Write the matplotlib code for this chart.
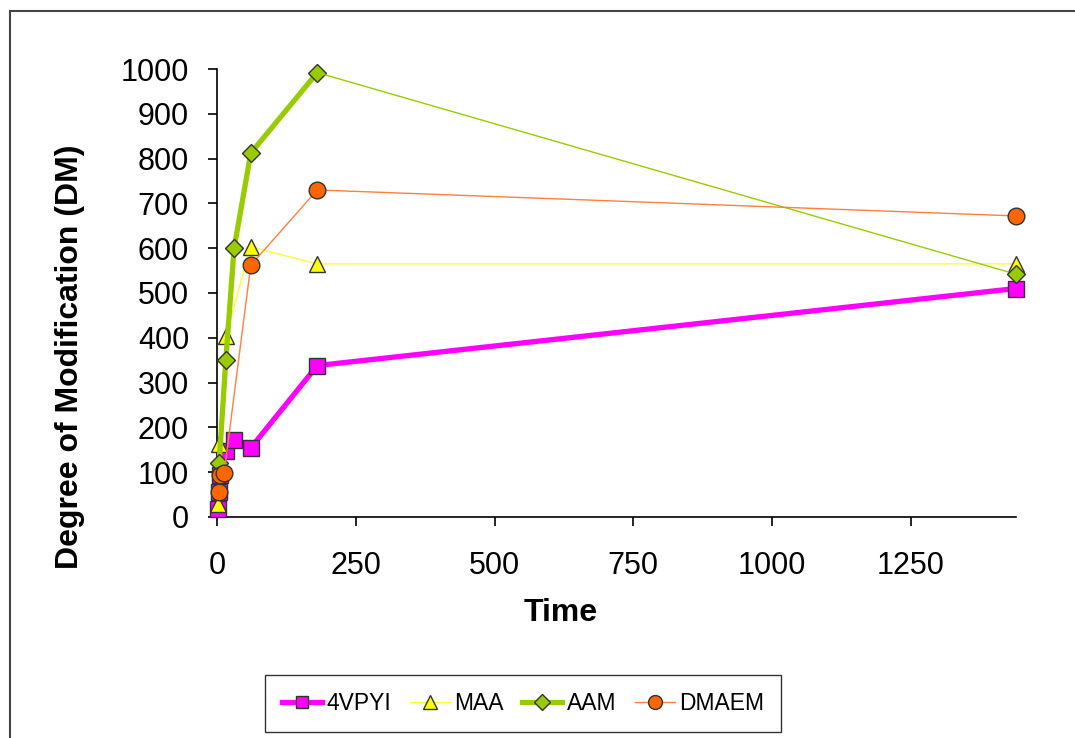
import matplotlib
matplotlib.use('Agg')
import matplotlib.pyplot as plt
from matplotlib.lines import Line2D
from matplotlib.patches import Rectangle

plt.rcParams['font.family'] = ['Liberation Sans', 'DejaVu Sans']

# reaction time vs degree of modification, one series per monomer
t_4vpyi  = [1, 3, 5, 15, 30, 60, 180, 1440]
dm_4vpyi = [18, 56, 94, 148, 172, 154, 338, 510]

t_maa    = [1, 3, 15, 60, 180, 1440]
dm_maa   = [30, 163, 405, 603, 565, 565]

t_aam    = [3, 15, 30, 60, 180, 1440]
dm_aam   = [120, 350, 600, 812, 992, 542]

t_dmaem  = [3, 5, 12, 60, 180, 1440]
dm_dmaem = [56, 94, 98, 562, 730, 672]

labels = ['4VPYI', 'MAA', 'AAM', 'DMAEM']
x_ticks = [0, 250, 500, 750, 1000, 1250]
y_ticks = list(range(0, 1001, 100))

edge = '#333333'

fig = plt.figure(figsize=(10.75, 7.38), dpi=100)
ax = fig.add_axes([0.2023, 0.2995, 0.7427, 0.607])

# outer chart frame
fig.patches.append(Rectangle((10 / 1075, -0.05), 1.2, 0.05 + 1 - 11 / 738, transform=fig.transFigure,
                             fill=False, edgecolor='#444444', linewidth=1.5))

ax.plot(t_4vpyi, dm_4vpyi, color='#FF00FF', lw=3.8, marker='s', ms=11.5,
        mfc='#FF00FF', mec=edge, mew=1, zorder=3, clip_on=False)
ax.plot(t_maa, dm_maa, color='#FFFF33', lw=1.0, marker='^', ms=12,
        mfc='#FFFF00', mec=edge, mew=1, zorder=4, clip_on=False)
# AAM: heavy line up to 180 min, thin line for the last interval
ax.plot(t_aam[:-1], dm_aam[:-1], color='#99CC00', lw=3.8, marker='D', ms=9.5,
        mfc='#99CC00', mec=edge, mew=1, zorder=5, clip_on=False)
ax.plot(t_aam[-2:], dm_aam[-2:], color='#99CC00', lw=1.0, marker='D', ms=9.5, markevery=[1],
        mfc='#99CC00', mec=edge, mew=1, zorder=5, clip_on=False)
ax.plot(t_dmaem, dm_dmaem, color='#FF8040', lw=1.0, marker='o', ms=12,
        mfc='#FF6600', mec=edge, mew=1, zorder=6, clip_on=False)

ax.set_xlim(0, 1440)
ax.set_ylim(0, 1000)
ax.set_xticks(x_ticks)
ax.set_yticks(y_ticks)
ax.spines['top'].set_visible(False)
ax.spines['right'].set_visible(False)
for s in ('left', 'bottom'):
    ax.spines[s].set_linewidth(1.2)
ax.tick_params(axis='y', direction='out', length=6.5, width=1.2, pad=14, labelsize=22)
ax.tick_params(axis='x', direction='out', length=6.5, width=1.2, pad=18, labelsize=22)

ax.set_xlabel('Time', fontsize=23, fontweight='bold', va='center')
ax.set_ylabel('Degree of Modification (DM)', fontsize=23, fontweight='bold', va='center')
ax.xaxis.set_label_coords((561 - 217.5) / 798.5, (517 - 613) / 448)
ax.yaxis.set_label_coords((70 - 217.5) / 798.5, (517 - 357) / 448)

handles = [
    Line2D([], [], color='#FF00FF', lw=3.8, marker='s', ms=9, mfc='#FF00FF', mec=edge),
    Line2D([], [], color='#FFFF33', lw=1.0, marker='^', ms=9.5, mfc='#FFFF00', mec=edge),
    Line2D([], [], color='#99CC00', lw=3.8, marker='D', ms=8, mfc='#99CC00', mec=edge),
    Line2D([], [], color='#FF8040', lw=1.0, marker='o', ms=10, mfc='#FF6600', mec=edge),
]
leg = fig.legend(handles, labels, loc='center', bbox_to_anchor=(523 / 1075, 1 - 703.5 / 738), ncol=4,
                 fontsize=16.5, frameon=True, fancybox=False, edgecolor='black',
                 handlelength=1.75, columnspacing=0.8, handletextpad=0.2, borderpad=0.75,
                 borderaxespad=0)
leg.get_frame().set_linewidth(1.0)

fig.savefig('out.png', dpi=100)
